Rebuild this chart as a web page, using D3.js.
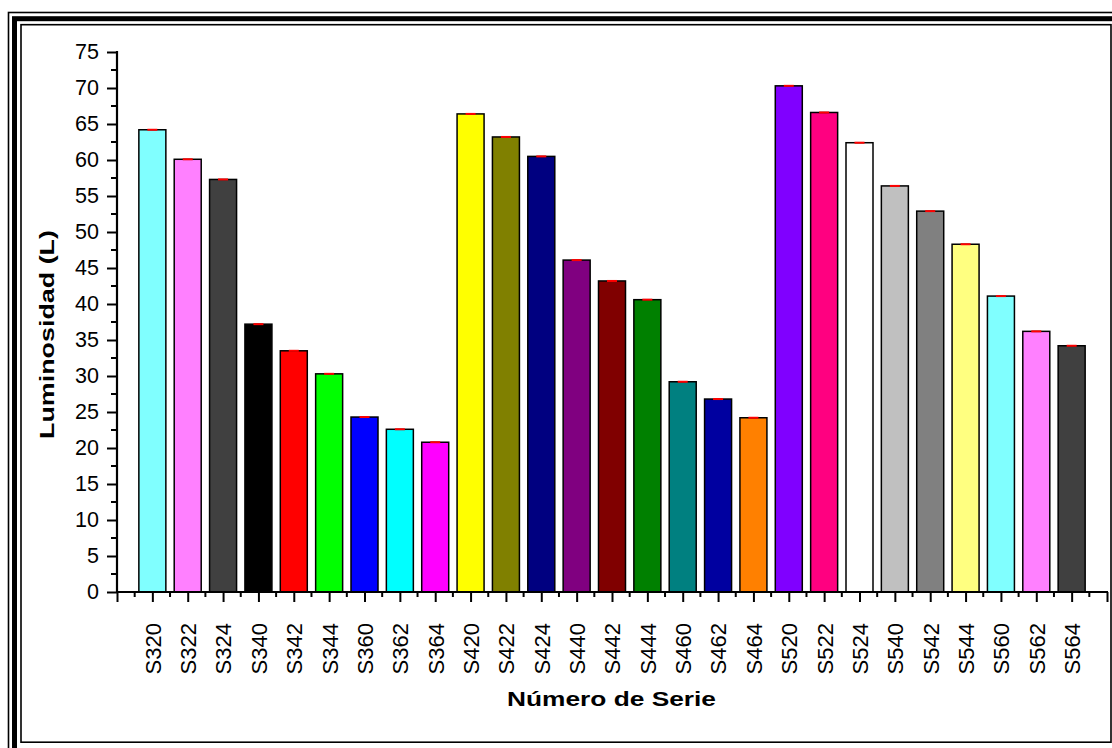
<!DOCTYPE html>
<html>
<head>
<meta charset="utf-8">
<script src="https://cdn.jsdelivr.net/npm/d3@7"></script>
<style>
  html, body { margin: 0; padding: 0; background: #fff; }
  svg { display: block; }
  text { font-family: Arial, "Liberation Sans", sans-serif; fill: #000; }
</style>
</head>
<body>
<script>
// Series names (x categories)
const series = ["S320","S322","S324","S340","S342","S344","S360","S362","S364",
                "S420","S422","S424","S440","S442","S444","S460","S462","S464",
                "S520","S522","S524","S540","S542","S544","S560","S562","S564"];

// Luminosity L for each series
const luminosity = [64.2, 60.1, 57.3, 37.2, 33.5, 30.3, 24.3, 22.6, 20.8,
                    66.4, 63.2, 60.5, 46.1, 43.2, 40.6, 29.2, 26.8, 24.2,
                    70.3, 66.6, 62.4, 56.4, 52.9, 48.3, 41.1, 36.2, 34.2];

// Fill colour for each bar
const barColors = ["#80FFFF","#FF80FF","#404040","#000000","#FF0000","#00FF00","#0000FF","#00FFFF","#FF00FF",
                   "#FFFF00","#808000","#000080","#800080","#800000","#008000","#008080","#0000A0","#FF8000",
                   "#8000FF","#FF0080","#FFFFFF","#C0C0C0","#808080","#FFFF80","#80FFFF","#FF80FF","#404040"];

// Y axis tick labels
const yTicks = [0,5,10,15,20,25,30,35,40,45,50,55,60,65,70,75];

const W = 1112, H = 748;
const svg = d3.select("body").append("svg").attr("width", W).attr("height", H);

// Triple frame around the figure
const frame = svg.append("g").attr("fill", "none").attr("stroke", "#000");
frame.append("rect").attr("x", 8.5).attr("y", 12.5).attr("width", 1130).attr("height", 760).attr("stroke-width", 1.6);
frame.append("rect").attr("x", 14.5).attr("y", 18.7).attr("width", 1120).attr("height", 750).attr("stroke-width", 5);
frame.append("rect").attr("x", 21).attr("y", 24.7).attr("width", 1090).attr("height", 717.5).attr("stroke-width", 1.6);

// Scales
const x0 = 117, x1 = 1107, yTop = 52, yBase = 592;
const x = d3.scaleLinear().domain([0, series.length + 1]).range([x0, x1]);
const y = d3.scaleLinear().domain([0, 75]).range([yBase, yTop]);
const barW = 27;

// Bars
const bars = svg.append("g");
bars.selectAll("rect").data(luminosity).join("rect")
  .attr("x", (d, i) => x(i + 1) - barW / 2)
  .attr("y", d => y(d))
  .attr("width", barW)
  .attr("height", d => y(0) - y(d))
  .attr("fill", (d, i) => barColors[i])
  .attr("stroke", "#000")
  .attr("stroke-width", 1.5);

// Error bar caps (red)
bars.selectAll("line.cap").data(luminosity).join("line")
  .attr("class", "cap")
  .attr("x1", (d, i) => x(i + 1) - 5)
  .attr("x2", (d, i) => x(i + 1) + 5)
  .attr("y1", d => y(d))
  .attr("y2", d => y(d))
  .attr("stroke", "#FF0000")
  .attr("stroke-width", 2);

// Y axis
const yAxis = svg.append("g").attr("transform", `translate(${x0},0)`);
yAxis.call(d3.axisLeft(y).tickValues(yTicks).tickSize(10).tickPadding(8))
  .call(g => g.select(".domain").remove());
yAxis.selectAll(".tick line").attr("stroke-width", 2);
yAxis.selectAll(".tick text").style("font-size", "21.5px").attr("font-family", null);
// minor y ticks
yAxis.selectAll("line.minor").data(yTicks.slice(0, -1).map(v => v + 2.5)).join("line")
  .attr("class", "minor")
  .attr("x1", -6).attr("x2", 0)
  .attr("y1", d => y(d)).attr("y2", d => y(d))
  .attr("stroke", "#000").attr("stroke-width", 2);
yAxis.append("line").attr("x1", 0).attr("x2", 0).attr("y1", y(0) + 1).attr("y2", y(75) - 1)
  .attr("stroke", "#000").attr("stroke-width", 2.2);

// X axis
const xAxis = svg.append("g").attr("transform", `translate(0,${yBase})`);
const majorX = d3.range(0, series.length + 2);
xAxis.call(d3.axisBottom(x).tickValues(majorX).tickSize(10)
  .tickFormat(d => (d >= 1 && d <= series.length) ? series[d - 1] : ""))
  .call(g => g.select(".domain").remove());
xAxis.selectAll(".tick line").attr("stroke-width", 2);
xAxis.selectAll(".tick text")
  .style("font-size", "22px").attr("font-family", null)
  .attr("transform", "rotate(-90)")
  .attr("text-anchor", "end")
  .attr("x", -31).attr("y", 0).attr("dy", "0.36em");
xAxis.selectAll("line.minor").data(majorX.slice(0, -1).map(v => v + 0.5)).join("line")
  .attr("class", "minor")
  .attr("x1", d => x(d)).attr("x2", d => x(d))
  .attr("y1", 0).attr("y2", 5)
  .attr("stroke", "#000").attr("stroke-width", 2);
xAxis.append("line").attr("x1", x0 - 1).attr("x2", x1 + 1).attr("y1", 0).attr("y2", 0)
  .attr("stroke", "#000").attr("stroke-width", 2.2);

// Axis titles
svg.append("text")
  .attr("transform", "translate(54,334.5) rotate(-90)")
  .attr("text-anchor", "middle")
  .attr("font-weight", "bold")
  .style("font-size", "21px")
  .attr("textLength", 209).attr("lengthAdjust", "spacingAndGlyphs")
  .text("Luminosidad (L)");

svg.append("text")
  .attr("x", 611.5).attr("y", 706)
  .attr("text-anchor", "middle")
  .attr("font-weight", "bold")
  .style("font-size", "21px")
  .attr("textLength", 209).attr("lengthAdjust", "spacingAndGlyphs")
  .text("Número de Serie");
</script>
</body>
</html>
